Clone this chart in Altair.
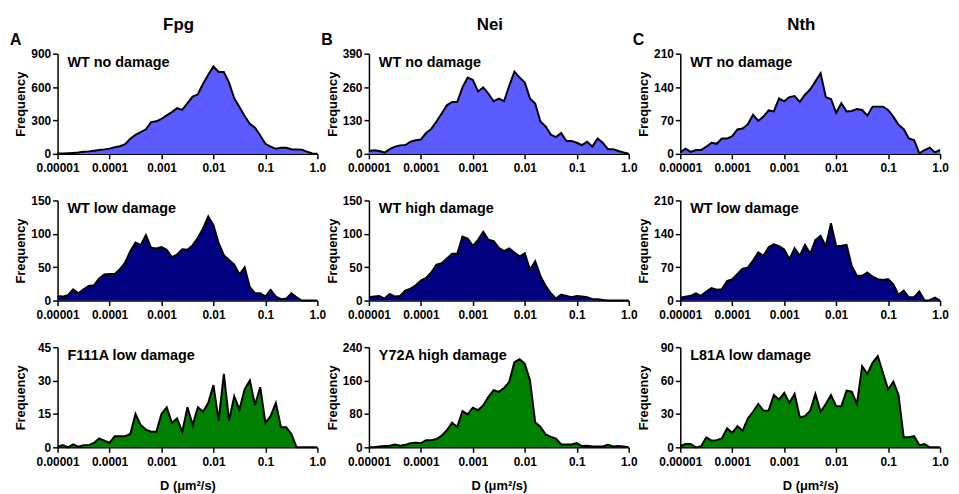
import altair as alt
import pandas as pd

# Bin centres of the diffusion-coefficient histogram (um^2/s), log-spaced
D_BINS = [
    1.000e-5, 1.259e-5, 1.585e-5, 1.995e-5, 2.512e-5, 3.162e-5, 3.981e-5, 5.012e-5, 6.310e-5, 7.943e-5,
    1.000e-4, 1.259e-4, 1.585e-4, 1.995e-4, 2.512e-4, 3.162e-4, 3.981e-4, 5.012e-4, 6.310e-4, 7.943e-4,
    1.000e-3, 1.259e-3, 1.585e-3, 1.995e-3, 2.512e-3, 3.162e-3, 3.981e-3, 5.012e-3, 6.310e-3, 7.943e-3,
    1.000e-2, 1.259e-2, 1.585e-2, 1.995e-2, 2.512e-2, 3.162e-2, 3.981e-2, 5.012e-2, 6.310e-2, 7.943e-2,
    1.000e-1, 1.259e-1, 1.585e-1, 1.995e-1, 2.512e-1, 3.162e-1, 3.981e-1, 5.012e-1, 6.310e-1, 7.943e-1,
    1.0,
]

FPG_WT_NO = [3, 3, 5, 8, 12, 18, 22, 28, 35, 40, 47, 60, 68, 86, 135, 170, 195, 220, 285, 292,
             315, 345, 375, 410, 395, 455, 515, 535, 630, 710, 785, 735, 735, 640, 500, 420, 340, 270, 235, 165,
             90, 65, 45, 55, 55, 42, 40, 38, 20, 3, 0]
NEI_WT_NO = [11, 14, 11, 5, 18, 28, 33, 34, 47, 53, 56, 81, 97, 126, 157, 189, 202, 202, 259, 297,
             288, 243, 259, 234, 205, 215, 205, 265, 320, 297, 278, 215, 196, 126, 107, 75, 65, 81, 50, 50,
             43, 34, 47, 28, 60, 43, 18, 18, 11, 5, 0]
NTH_WT_NO = [3, 11, 4, 8, 8, 15, 23, 21, 32, 32, 37, 51, 53, 62, 82, 69, 78, 91, 89, 116,
             110, 119, 121, 109, 124, 135, 152, 169, 119, 115, 86, 106, 89, 90, 94, 92, 80, 99, 99, 99,
             92, 78, 61, 52, 32, 29, 1, 8, 13, 3, 8]
FPG_WT_LOW = [7, 6, 8, 17, 11, 17, 22, 23, 33, 39, 40, 40, 47, 57, 74, 87, 83, 98, 79, 78,
              80, 76, 65, 69, 77, 76, 83, 94, 108, 126, 113, 86, 68, 61, 54, 39, 50, 20, 11, 11,
              6, 16, 6, 2, 3, 11, 5, 0, 0, 0, 0]
NEI_WT_HIGH = [5, 6, 7, 3, 10, 6, 7, 15, 18, 23, 30, 34, 42, 54, 56, 63, 70, 70, 96, 93,
               82, 91, 103, 91, 89, 79, 74, 78, 72, 66, 71, 46, 59, 37, 22, 11, 3, 9, 7, 5,
               7, 6, 5, 2, 2, 1, 0, 0, 0, 0, 0]
NTH_WT_LOW = [6, 8, 10, 15, 10, 19, 26, 23, 24, 41, 45, 56, 67, 69, 84, 101, 94, 112, 118, 114,
              107, 87, 110, 94, 117, 98, 127, 136, 114, 162, 114, 115, 117, 72, 52, 52, 59, 50, 45, 43,
              45, 34, 12, 21, 7, 7, 19, 0, 1, 6, 0]
FPG_F111A_LOW = [0.3, 1, 0, 1.3, 0.3, 1, 1, 2, 4, 3, 2, 5, 5, 5, 6, 15, 10, 8, 7, 7,
                 15, 18, 11, 13, 7, 18, 10, 18, 16, 20, 28, 12, 33, 12, 23, 17, 26, 30, 19, 27,
                 11, 14, 20, 9, 9, 6, 0, 0, 0, 0, 0]
NEI_Y72A_HIGH = [0, 0, 2, 3, 4, 7, 4, 6, 10, 11, 10, 17, 17, 20, 28, 41, 59, 49, 87, 79,
                 95, 89, 101, 121, 137, 133, 142, 157, 204, 211, 200, 160, 60, 49, 31, 25, 21, 7, 7, 7,
                 10, 3, 4, 2, 2, 2, 6, 2, 3, 2, 0]
NTH_L81A_LOW = [1, 3, 3, 0, 1, 9, 6, 6.5, 8, 17, 13, 19, 15, 26, 32, 39, 33, 33, 47, 43,
                49, 40, 48, 27, 28, 33, 48, 32, 39, 47, 37, 37, 51, 50, 39, 73, 66, 76, 82, 67,
                52, 59, 47, 9, 9, 10, 2, 3, 0, 0, 0]

X_TICKS = [0.00001, 0.0001, 0.001, 0.01, 0.1, 1.0]
X_TICK_LABELS = ["0.00001", "0.0001", "0.001", "0.01", "0.1", "1.0"]

COLUMN_TITLES = ["Fpg", "Nei", "Nth"]
PANEL_LETTERS = ["A", "B", "C"]

PANELS = [
    # (label, values, y max, y ticks, colour)
    ("WT no damage", FPG_WT_NO, 900, [0, 300, 600, 900], "#5b5bff"),
    ("WT no damage", NEI_WT_NO, 390, [0, 130, 260, 390], "#5b5bff"),
    ("WT no damage", NTH_WT_NO, 210, [0, 70, 140, 210], "#5b5bff"),
    ("WT low damage", FPG_WT_LOW, 150, [0, 50, 100, 150], "#000080"),
    ("WT high damage", NEI_WT_HIGH, 150, [0, 50, 100, 150], "#000080"),
    ("WT low damage", NTH_WT_LOW, 210, [0, 70, 140, 210], "#000080"),
    ("F111A low damage", FPG_F111A_LOW, 45, [0, 15, 30, 45], "#008000"),
    ("Y72A high damage", NEI_Y72A_HIGH, 240, [0, 80, 160, 240], "#008000"),
    ("L81A low damage", NTH_L81A_LOW, 90, [0, 30, 60, 90], "#008000"),
]

FONT = "Liberation Sans"
W, H = 262, 101

# label expression built from the tick lists
expr = "''"
for v, lab in reversed(list(zip(X_TICKS, X_TICK_LABELS))):
    expr = f"abs(log(datum.value) - log({v})) < 0.1 ? '{lab}' : " + expr


def make_panel(idx):
    label, vals, ymax, yticks, color = PANELS[idx]
    row, col = divmod(idx, 3)
    df = pd.DataFrame({"D": D_BINS, "freq": vals})

    x_axis_kwargs = dict(
        values=X_TICKS, labelExpr=expr, labelFlush=False, labelOverlap=False,
        grid=False, labelPadding=4,
    )
    if row == 2:
        x_axis_kwargs.update(titleY=42.5, titleBaseline="alphabetic", titleAnchor="middle")
    x = alt.X(
        "D:Q",
        scale=alt.Scale(type="log", domain=[1e-5, 1], nice=False),
        axis=alt.Axis(**x_axis_kwargs),
        title="D (μm²/s)" if row == 2 else None,
    )
    y = alt.Y(
        "freq:Q",
        scale=alt.Scale(domain=[0, ymax], nice=False, zero=True),
        axis=alt.Axis(values=yticks, grid=False, titleX=-33, titleY=H / 2,
                      titleAngle=270, titleBaseline="alphabetic", titleAlign="center"),
        title="Frequency",
    )
    area = alt.Chart(df).mark_area(
        color=color, opacity=1,
        line=alt.OverlayMarkDef(color="black", strokeWidth=2),
    ).encode(x=x, y=y)

    txt = alt.Chart(pd.DataFrame({"t": [label]})).mark_text(
        align="left", baseline="alphabetic", fontSize=14.5, fontWeight="bold",
        font=FONT, color="black",
    ).encode(x=alt.value(10), y=alt.value(13), text="t:N")

    layers = [area, txt]
    if row == 0:
        ttl = alt.Chart(pd.DataFrame({"t": [COLUMN_TITLES[col]]})).mark_text(
            align="center", baseline="alphabetic", fontSize=17, fontWeight="bold",
            font=FONT, color="black",
        ).encode(x=alt.value(122), y=alt.value(-24), text="t:N")
        let = alt.Chart(pd.DataFrame({"t": [PANEL_LETTERS[col]]})).mark_text(
            align="left", baseline="alphabetic", fontSize=16, fontWeight="bold",
            font=FONT, color="black",
        ).encode(x=alt.value(-48), y=alt.value(-9), text="t:N")
        layers += [ttl, let]
    return alt.layer(*layers).properties(width=W, height=H)


chart = alt.concat(
    *[make_panel(i) for i in range(9)],
    columns=3,
    spacing={"row": 47, "column": 52},
    bounds="flush",
).properties(
    padding={"left": 2, "top": 6, "right": 2, "bottom": 2},
).configure_view(
    stroke=None,
).configure_axis(
    domainColor="black", domainWidth=1.5, tickColor="black", tickWidth=1.5, tickSize=5,
    labelFont=FONT, labelFontSize=12, labelFontWeight="bold", labelColor="black", labelPadding=2,
    titleFont=FONT, titleFontSize=13, titleFontWeight="bold", titleColor="black",
)

chart.save("out.html", embed_options={"renderer": "svg", "actions": False})
